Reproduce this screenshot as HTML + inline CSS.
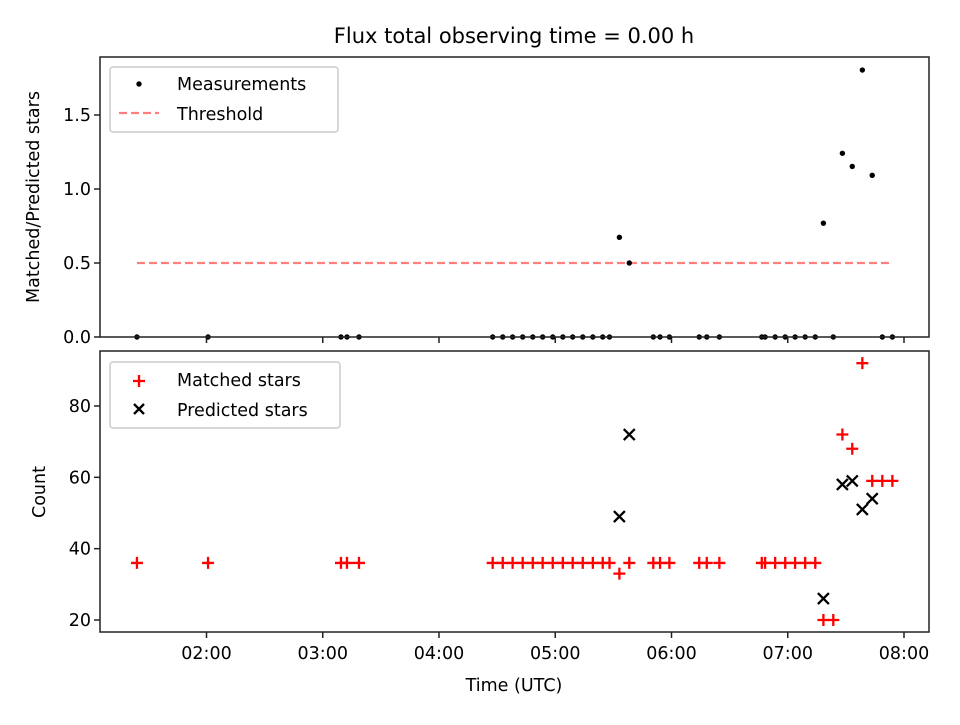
<!DOCTYPE html>
<html><head><meta charset="utf-8"><style>body{margin:0;background:#fff}svg{font-family:"DejaVu Sans","Liberation Sans",sans-serif}</style></head>
<body>
<svg id="c" width="960" height="720" viewBox="0 0 960 720"></svg>
<script>
const times=[84.1,120.8,189.4,192.5,198.7,267.7,272.9,278.0,283.2,288.4,293.5,298.7,303.9,309.0,314.2,319.4,324.5,328.0,333.1,338.2,350.6,354.1,358.9,374.3,378.2,384.7,406.6,408.3,413.5,418.7,423.8,429.0,434.2,438.4,443.5,448.2,453.3,458.5,463.6,468.8,474.0];
const matched=[36,36,36,36,36,36,36,36,36,36,36,36,36,36,36,36,36,36,33,36,36,36,36,36,36,36,36,36,36,36,36,36,36,20,20,72,68,92,59,59,59];
const predicted=[0,0,0,0,0,0,0,0,0,0,0,0,0,0,0,0,0,0,49,72,0,0,0,0,0,0,0,0,0,0,0,0,0,26,0,58,59,51,54,0,0];
const threshold=0.5;
const xTicks=[120,180,240,300,360,420,480];
const xTickLabels=["02:00","03:00","04:00","05:00","06:00","07:00","08:00"];
const topTicks=[0,0.5,1.0,1.5];
const topTickLabels=["0.0","0.5","1.0","1.5"];
const botTicks=[20,40,60,80];
const botTickLabels=["20","40","60","80"];

const NS="http://www.w3.org/2000/svg",svg=document.getElementById('c');
function el(t,a,p){const e=document.createElementNS(NS,t);for(const k in a)e.setAttribute(k,a[k]);(p||svg).appendChild(e);return e;}
const L=100,R=929,T1=57,B1=337,T2=351,B2=632;
const FS=17.5;
const X=t=>206.5+(t-120)*116.25/60;
const Y1=v=>337-v*148;
const Y2=v=>620-(v-20)*3.567;

let t=el('text',{x:514,y:43,'font-size':21,'text-anchor':'middle'});t.textContent="Flux total observing time = 0.00 h";


function axes(T,B,name){
  const g=el('g',{});
  xTicks.forEach((v,i)=>{el('line',{x1:X(v),x2:X(v),y1:B,y2:B+6,stroke:'#222','stroke-width':1.5},g);});
  return g;
}
// top
const g1=axes(T1,B1,'top-axes');
topTicks.forEach((v,i)=>{el('line',{x1:L-6,x2:L,y1:Y1(v),y2:Y1(v),stroke:'#222','stroke-width':1.5},g1);
 const tx=el('text',{x:L-9,y:Y1(v)+6,'font-size':FS,'text-anchor':'end'},g1);tx.textContent=topTickLabels[i];});
let yl=el('text',{x:39,y:197,'font-size':FS,'text-anchor':'middle',transform:'rotate(-90 39 197)'});yl.textContent="Matched/Predicted stars";

const th=el('line',{x1:X(times[0]),x2:X(times[times.length-1]),y1:Y1(threshold),y2:Y1(threshold),stroke:'#ff7f7f','stroke-width':2.2,'stroke-dasharray':'8,4'});

times.forEach((tm,i)=>{const r=predicted[i]?matched[i]/predicted[i]:0;
 const d=el('circle',{cx:X(tm),cy:Y1(r),r:2.7,fill:'#000'});
 });
el('rect',{x:L,y:T1,width:R-L,height:B1-T1,fill:'none',stroke:'#222','stroke-width':1.5});
// top legend
const lg1=el('g',{});
el('rect',{x:110,y:67,width:228,height:65,rx:3,fill:'#fff','fill-opacity':0.8,stroke:'#ccc','stroke-width':1.5},lg1);
el('circle',{cx:139,cy:84,r:2.7,fill:'#000'},lg1);
let a=el('text',{x:177,y:90,'font-size':FS},lg1);a.textContent="Measurements";
el('line',{x1:119,x2:159,y1:113,y2:113,stroke:'#ff7f7f','stroke-width':2.2,'stroke-dasharray':'8,4'},lg1);
a=el('text',{x:177,y:120,'font-size':FS},lg1);a.textContent="Threshold";

// bottom
const g2=axes(T2,B2,'bottom-axes');
xTicks.forEach((v,i)=>{const tx=el('text',{x:X(v),y:B2+27,'font-size':FS,'text-anchor':'middle'},g2);tx.textContent=xTickLabels[i];});
botTicks.forEach((v,i)=>{el('line',{x1:L-6,x2:L,y1:Y2(v),y2:Y2(v),stroke:'#222','stroke-width':1.5},g2);
 const tx=el('text',{x:L-9,y:Y2(v)+6,'font-size':FS,'text-anchor':'end'},g2);tx.textContent=botTickLabels[i];});
yl=el('text',{x:45,y:492,'font-size':FS,'text-anchor':'middle',transform:'rotate(-90 45 492)'});yl.textContent="Count";

const xl=el('text',{x:514,y:691,'font-size':FS,'text-anchor':'middle'});xl.textContent="Time (UTC)";

times.forEach((tm,i)=>{const x=X(tm),y=Y2(matched[i]);
 const p=el('path',{d:`M${x-6},${y}H${x+6}M${x},${y-6}V${y+6}`,stroke:'#f00','stroke-width':2.3});
 });
times.forEach((tm,i)=>{if(!predicted[i])return;const x=X(tm),y=Y2(predicted[i]);
 const p=el('path',{d:`M${x-5.5},${y-5.5}L${x+5.5},${y+5.5}M${x-5.5},${y+5.5}L${x+5.5},${y-5.5}`,stroke:'#000','stroke-width':2.3});
 });
el('rect',{x:L,y:T2,width:R-L,height:B2-T2,fill:'none',stroke:'#222','stroke-width':1.5});
const lg2=el('g',{});
el('rect',{x:110,y:362,width:230,height:66,rx:3,fill:'#fff','fill-opacity':0.8,stroke:'#ccc','stroke-width':1.5},lg2);
el('path',{d:'M133,381H145M139,375V387',stroke:'#f00','stroke-width':2.3},lg2);
a=el('text',{x:177,y:386,'font-size':FS},lg2);a.textContent="Matched stars";
el('path',{d:'M134,404L144,414M134,414L144,404',stroke:'#000','stroke-width':2.3},lg2);
a=el('text',{x:177,y:416,'font-size':FS},lg2);a.textContent="Predicted stars";
</script>
</body></html>
